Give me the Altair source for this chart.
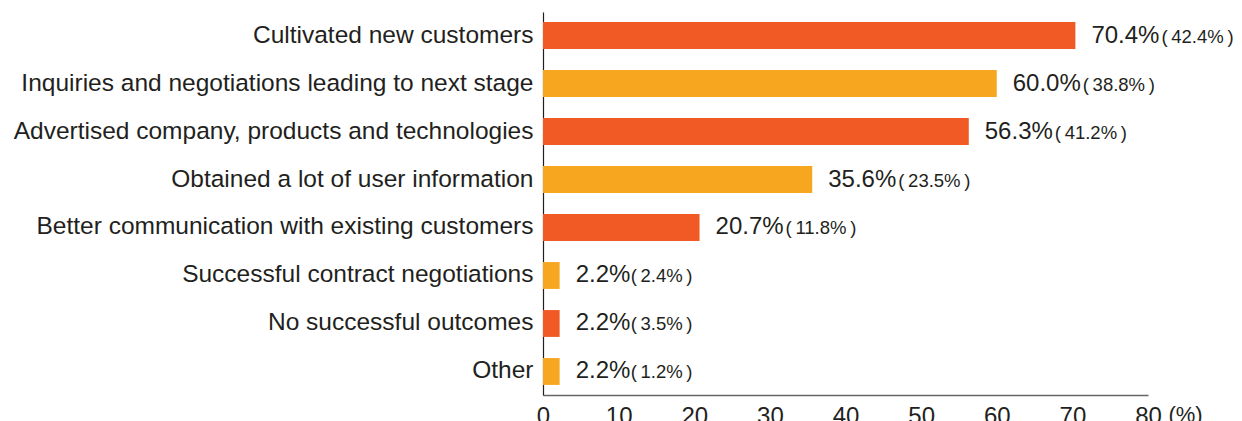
import altair as alt
import pandas as pd

categories = [
    "Cultivated new customers",
    "Inquiries and negotiations leading to next stage",
    "Advertised company, products and technologies",
    "Obtained a lot of user information",
    "Better communication with existing customers",
    "Successful contract negotiations",
    "No successful outcomes",
    "Other",
]
values = [70.4, 60.0, 56.3, 35.6, 20.7, 2.2, 2.2, 2.2]
previous = [42.4, 38.8, 41.2, 23.5, 11.8, 2.4, 3.5, 1.2]
color_groups = ["a", "b", "a", "b", "a", "b", "a", "b"]
x_ticks = [0, 10, 20, 30, 40, 50, 60, 70, 80]

df = pd.DataFrame({
    "category": categories,
    "value": values,
    "prev": previous,
    "grp": color_groups,
})
df["main"] = df["value"].map(lambda v: f"{v:.1f}%")
df["paren"] = df["prev"].map(lambda v: f"(\u2009{v:.1f}%\u2009)")
df["long"] = df["main"].str.len() >= 5

FONT = "Liberation Sans"
TXT = "#231f20"

y_enc = alt.Y(
    "category:N",
    sort=categories,
    scale=alt.Scale(paddingInner=0.44, paddingOuter=0.21),
    axis=alt.Axis(
        title=None, labelFontSize=24.5, labelFont=FONT, labelColor=TXT,
        labelPadding=10, ticks=False, domainColor="#231f20", domainWidth=1.2,
        labelLimit=600,
    ),
)
x_enc = alt.X(
    "value:Q",
    scale=alt.Scale(domain=[0, 80], nice=False),
    axis=alt.Axis(
        values=x_ticks, title="(%)", titleX=642, titleY=9, titleBaseline="top",
        titleFontSize=22, titleFont=FONT, titleFontWeight="normal", titleColor=TXT,
        titleAlign="center",
        labelFontSize=24, labelFont=FONT, labelColor=TXT, labelPadding=9,
        ticks=False, grid=False, domainColor="#666666", domainWidth=1.5,
        labelFlush=False,
    ),
)

base = alt.Chart(df)

bars = base.mark_bar().encode(
    y=y_enc,
    x=x_enc,
    color=alt.Color("grp:N", scale=alt.Scale(domain=["a", "b"], range=["#F15A24", "#F7A71F"]), legend=None),
)

main_text = base.mark_text(
    align="left", baseline="middle", dx=16, fontSize=24, font=FONT, color=TXT
).encode(y=alt.Y("category:N", sort=categories), x="value:Q", text="main:N")

paren_long = base.transform_filter("datum.long").mark_text(
    align="left", baseline="middle", dx=86, dy=1, fontSize=18.5, font=FONT, color=TXT
).encode(y=alt.Y("category:N", sort=categories), x="value:Q", text="paren:N")

paren_short = base.transform_filter("!datum.long").mark_text(
    align="left", baseline="middle", dx=71, dy=1, fontSize=18.5, font=FONT, color=TXT
).encode(y=alt.Y("category:N", sort=categories), x="value:Q", text="paren:N")

chart = alt.layer(bars, main_text, paren_long, paren_short).properties(
    width=605, height=383,
    autosize=alt.AutoSizeParams(type="none"),
    padding={"left": 535, "top": 4, "right": 85, "bottom": 30},
).configure(background="white").configure_view(stroke=None)

chart.save("out.html", embed_options={"renderer": "svg", "actions": False})
